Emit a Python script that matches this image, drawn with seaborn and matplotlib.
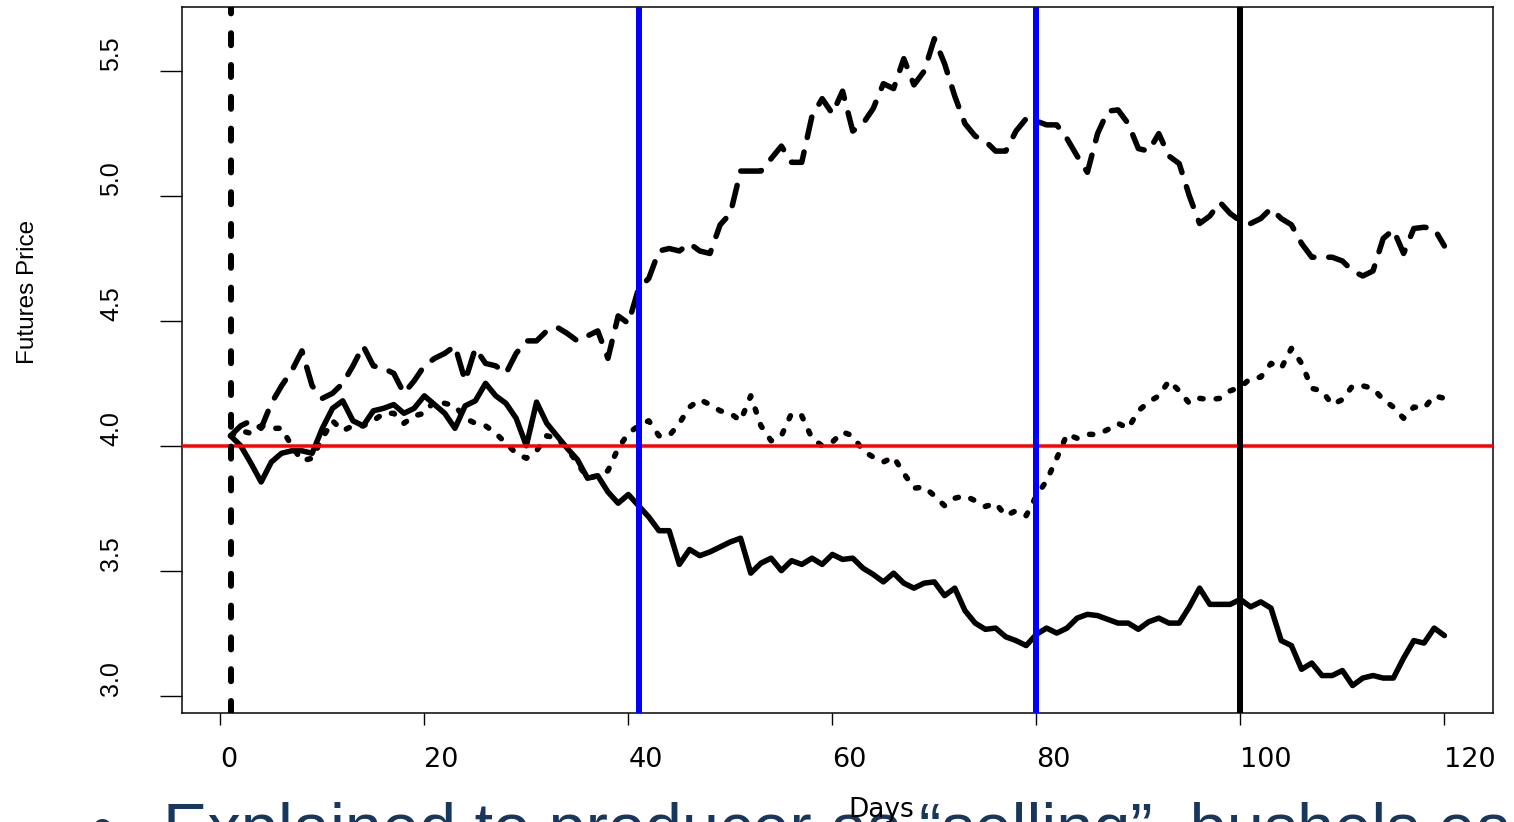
import numpy as np
import pandas as pd
import matplotlib
matplotlib.use("Agg")
import matplotlib.pyplot as plt
from matplotlib import font_manager
import seaborn as sns

# Simulated futures price paths over the 120-day window
days = np.arange(1, 121)

price_low = [
    4.04, 4.00, 3.93, 3.855, 3.935, 3.97, 3.98, 3.98, 3.97, 4.07,
    4.15, 4.18, 4.10, 4.08, 4.14, 4.15, 4.165, 4.13, 4.15, 4.20,
    4.165, 4.13, 4.07, 4.16, 4.18, 4.25, 4.20, 4.17, 4.11, 4.00,
    4.175, 4.09, 4.04, 3.99, 3.945, 3.87, 3.88, 3.815, 3.77, 3.805,
    3.76, 3.715, 3.66, 3.66, 3.525, 3.585, 3.56, 3.575, 3.595, 3.615,
    3.63, 3.49, 3.53, 3.55, 3.50, 3.54, 3.525, 3.55, 3.525, 3.565,
    3.545, 3.55, 3.51, 3.485, 3.455, 3.49, 3.45, 3.43, 3.45, 3.455,
    3.40, 3.43, 3.34, 3.29, 3.265, 3.27, 3.235, 3.22, 3.20, 3.245,
    3.27, 3.25, 3.27, 3.31, 3.325, 3.32, 3.305, 3.29, 3.29, 3.265,
    3.295, 3.31, 3.29, 3.29, 3.355, 3.43, 3.365, 3.365, 3.365, 3.385,
    3.355, 3.375, 3.35, 3.22, 3.20, 3.105, 3.13, 3.08, 3.08, 3.10,
    3.04, 3.07, 3.08, 3.07, 3.07, 3.15, 3.22, 3.21, 3.27, 3.24,
]

price_high = [
    4.04, 4.08, 4.10, 4.07, 4.17, 4.24, 4.30, 4.38, 4.24, 4.19,
    4.21, 4.25, 4.32, 4.40, 4.32, 4.31, 4.29, 4.21, 4.26, 4.32,
    4.35, 4.37, 4.40, 4.26, 4.39, 4.33, 4.32, 4.29, 4.37, 4.42,
    4.42, 4.46, 4.475, 4.45, 4.42, 4.44, 4.46, 4.35, 4.52, 4.49,
    4.63, 4.67, 4.78, 4.79, 4.78, 4.81, 4.78, 4.77, 4.885, 4.93,
    5.10, 5.10, 5.10, 5.15, 5.20, 5.135, 5.135, 5.32, 5.39, 5.33,
    5.42, 5.26, 5.29, 5.35, 5.45, 5.43, 5.55, 5.445, 5.50, 5.63,
    5.53, 5.40, 5.29, 5.24, 5.22, 5.18, 5.18, 5.26, 5.31, 5.30,
    5.285, 5.285, 5.23, 5.16, 5.095, 5.25, 5.34, 5.345, 5.29, 5.19,
    5.18, 5.25, 5.16, 5.13, 5.00, 4.89, 4.92, 4.975, 4.93, 4.90,
    4.89, 4.91, 4.95, 4.91, 4.885, 4.81, 4.755, 4.755, 4.755, 4.74,
    4.70, 4.68, 4.70, 4.83, 4.865, 4.77, 4.87, 4.875, 4.87, 4.80,
]

price_mid = [
    4.04, 4.06, 4.05, 4.08, 4.07, 4.07, 4.00, 3.94, 3.95, 4.03,
    4.10, 4.06, 4.08, 4.08, 4.10, 4.13, 4.13, 4.09, 4.12, 4.13,
    4.18, 4.17, 4.16, 4.11, 4.09, 4.08, 4.05, 4.01, 3.97, 3.95,
    3.98, 4.04, 4.03, 3.99, 3.93, 3.87, 3.88, 3.90, 3.99, 4.05,
    4.08, 4.10, 4.04, 4.04, 4.09, 4.155, 4.185, 4.165, 4.14, 4.13,
    4.10, 4.20, 4.08, 4.02, 4.04, 4.13, 4.12, 4.03, 4.00, 4.015,
    4.055, 4.04, 3.98, 3.955, 3.935, 3.955, 3.89, 3.83, 3.835, 3.80,
    3.76, 3.79, 3.80, 3.78, 3.757, 3.77, 3.72, 3.74, 3.72, 3.80,
    3.86, 3.95, 4.046, 4.03, 4.046, 4.045, 4.065, 4.09, 4.07, 4.14,
    4.175, 4.20, 4.26, 4.22, 4.17, 4.19, 4.185, 4.19, 4.22, 4.235,
    4.27, 4.275, 4.33, 4.31, 4.39, 4.33, 4.23, 4.22, 4.165, 4.185,
    4.24, 4.24, 4.23, 4.185, 4.155, 4.11, 4.155, 4.15, 4.20, 4.19,
]

target_price = 4.0
start_day = 1
pricing_days = [41, 80]
delivery_day = 100

x_ticks = [0, 20, 40, 60, 80, 100, 120]
x_tick_labels = ["0", "20", "40", "60", "80", "100", "120"]
y_ticks = [3.0, 3.5, 4.0, 4.5, 5.0, 5.5]
y_tick_labels = ["3.0", "3.5", "4.0", "4.5", "5.0", "5.5"]

x_label = "Days"
y_label = "Futures Price"
note_bullet = "\u2022"
note_text = "Explained to producer as \u201cselling\u201d, bushels each day"

sns.set_style("white")
installed = {f.name for f in font_manager.fontManager.ttflist}
label_font = "Liberation Sans" if "Liberation Sans" in installed else "DejaVu Sans"
body_font = "Liberation Sans" if "Liberation Sans" in installed else "DejaVu Sans"
plt.rcParams["font.family"] = ["DejaVu Sans"]
plt.rcParams["text.color"] = "black"

PX = 0.72  # points per pixel at 100 dpi

fig = plt.figure(figsize=(15.14, 8.22), dpi=100)
ax = fig.add_axes([0.1202, 0.1326, 0.8659, 0.8589])

frame = pd.DataFrame({"day": days, "low": price_low, "high": price_high, "mid": price_mid})

sns.lineplot(data=frame, x="day", y="low", ax=ax, color="black", linewidth=5.5 * PX,
             solid_capstyle="round", solid_joinstyle="round", zorder=3)
sns.lineplot(data=frame, x="day", y="high", ax=ax, color="black", linewidth=5.5 * PX,
             linestyle=(0, (3.8, 2.7)), dash_capstyle="round", dash_joinstyle="round", zorder=3)
sns.lineplot(data=frame, x="day", y="mid", ax=ax, color="black", linewidth=5.5 * PX,
             linestyle=(0, (0.6, 2.4)), dash_capstyle="round", dash_joinstyle="round", zorder=3)

# Reference lines: target price, contract start, pricing dates, delivery
ax.axhline(target_price, color="#FF0000", linewidth=3.5 * PX, zorder=4)
ax.axvline(start_day, color="black", linewidth=6 * PX, linestyle=(0, (2.0, 3.3)),
           dash_capstyle="round", zorder=4)
for d in pricing_days:
    ax.axvline(d, color="#0000FF", linewidth=6 * PX, zorder=4)
ax.axvline(delivery_day, color="black", linewidth=6 * PX, zorder=4)

ax.set_xlim(-3.76, 124.76)
ax.set_ylim(2.930, 5.757)
ax.set_xlabel("")
ax.set_ylabel("")

ax.set_xticks(x_ticks)
ax.set_xticklabels(x_tick_labels, ha="left", fontsize=19.5, family="DejaVu Sans", color="black")
ax.set_yticks(y_ticks)
ax.set_yticklabels(y_tick_labels, rotation=90, va="bottom", ha="right",
                   fontsize=18, family=label_font, color="black")
ax.tick_params(axis="x", bottom=True, direction="out", length=12 * PX,
               width=1.4 * PX, pad=15.5, color="black")
ax.tick_params(axis="y", left=True, direction="out", length=22 * PX,
               width=1.4 * PX, pad=26.5, color="black")
for spine in ax.spines.values():
    spine.set_color("black")
    spine.set_linewidth(1.5 * PX)

fig.text(28 / 1514, 1 - 292 / 822, y_label, rotation=90, ha="center", va="center",
         fontsize=17.5, family=label_font, color="black")

# Slide bullet running along the bottom edge
fig.text(90 / 1514, 1 - 850 / 822, note_bullet, ha="left", va="baseline",
         fontsize=48, family=body_font, color="#17375E")
fig.text(163 / 1514, 1 - 850 / 822, note_text, ha="left", va="baseline",
         fontsize=48, family=body_font, color="#17375E")

fig.text(881 / 1514, 1 - 817 / 822, x_label, ha="center", va="baseline",
         fontsize=19, family="DejaVu Sans", color="black", zorder=10)

fig.savefig("out.png", dpi=100)
